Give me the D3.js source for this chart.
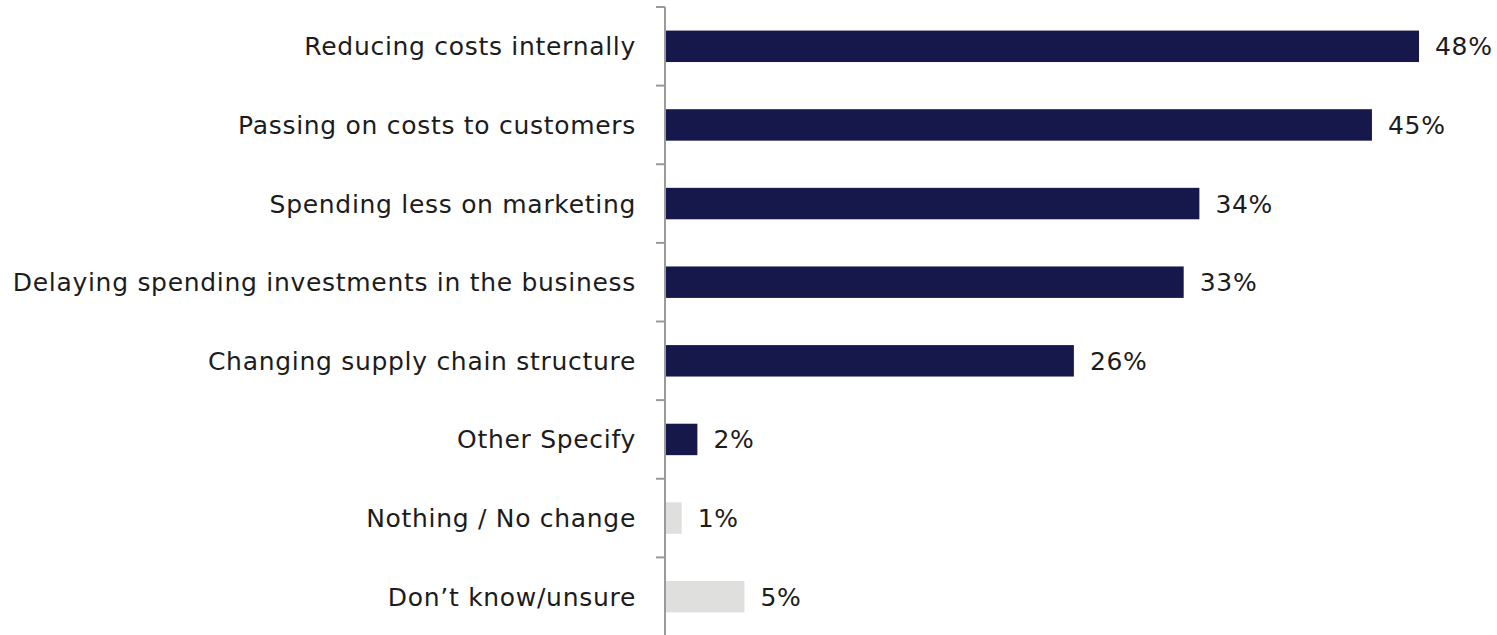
<!DOCTYPE html>
<html>
<head>
<meta charset="utf-8">
<script src="https://cdn.jsdelivr.net/npm/d3@7"></script>
<style>
  html, body { margin: 0; padding: 0; background: #ffffff; }
  svg text { font-family: "DejaVu Sans", sans-serif; font-weight: 400; fill: #1c1c1c; letter-spacing: 0.7px; }
</style>
</head>
<body>
<svg id="chart" width="1497" height="635"></svg>
<script>
// Responses, top to bottom
const categories = [
  "Reducing costs internally",
  "Passing on costs to customers",
  "Spending less on marketing",
  "Delaying spending investments in the business",
  "Changing supply chain structure",
  "Other Specify",
  "Nothing / No change",
  "Don\u2019t know/unsure"
];
const values = [48, 45, 34, 33, 26, 2, 1, 5];
// Action responses are dark; non-action responses are muted
const isAction = [true, true, true, true, true, true, false, false];

const svg = d3.select("#chart");
const axisX = 665;
const plotTop = 7, plotBottom = 636;

const y = d3.scaleBand()
  .domain(categories)
  .range([plotTop, plotBottom])
  .paddingInner(0.6)
  .paddingOuter(0.3);

const x = d3.scaleLinear()
  .domain([0, 48])
  .range([axisX + 1, 1419]);

// Bars
svg.append("g")
  .selectAll("rect")
  .data(categories)
  .join("rect")
  .attr("x", x(0))
  .attr("y", d => y(d))
  .attr("width", (d, i) => x(values[i]) - x(0))
  .attr("height", y.bandwidth())
  .attr("fill", (d, i) => isAction[i] ? "#16174a" : "#dfdfdd");

// Value labels
svg.append("g")
  .selectAll("text")
  .data(categories)
  .join("text")
  .attr("x", (d, i) => x(values[i]) + 16)
  .attr("y", d => y(d) + y.bandwidth() / 2)
  .attr("dy", "0.36em")
  .attr("font-size", 25)
  .text((d, i) => values[i] + "%");

// Category axis with ticks between bands
const step = y.step();
const tickYs = d3.range(categories.length).map(i => plotTop + i * step);
svg.append("line")
  .attr("x1", axisX).attr("x2", axisX)
  .attr("y1", plotTop).attr("y2", plotBottom)
  .attr("stroke", "#9a9a9a").attr("stroke-width", 2);
svg.append("g")
  .selectAll("line")
  .data(tickYs)
  .join("line")
  .attr("x1", axisX - 9).attr("x2", axisX)
  .attr("y1", d => d).attr("y2", d => d)
  .attr("stroke", "#9a9a9a").attr("stroke-width", 2);

// Category labels
svg.append("g")
  .selectAll("text")
  .data(categories)
  .join("text")
  .attr("x", axisX - 29)
  .attr("y", d => y(d) + y.bandwidth() / 2)
  .attr("dy", "0.36em")
  .attr("text-anchor", "end")
  .attr("font-size", 25)
  .text(d => d);
</script>
</body>
</html>
